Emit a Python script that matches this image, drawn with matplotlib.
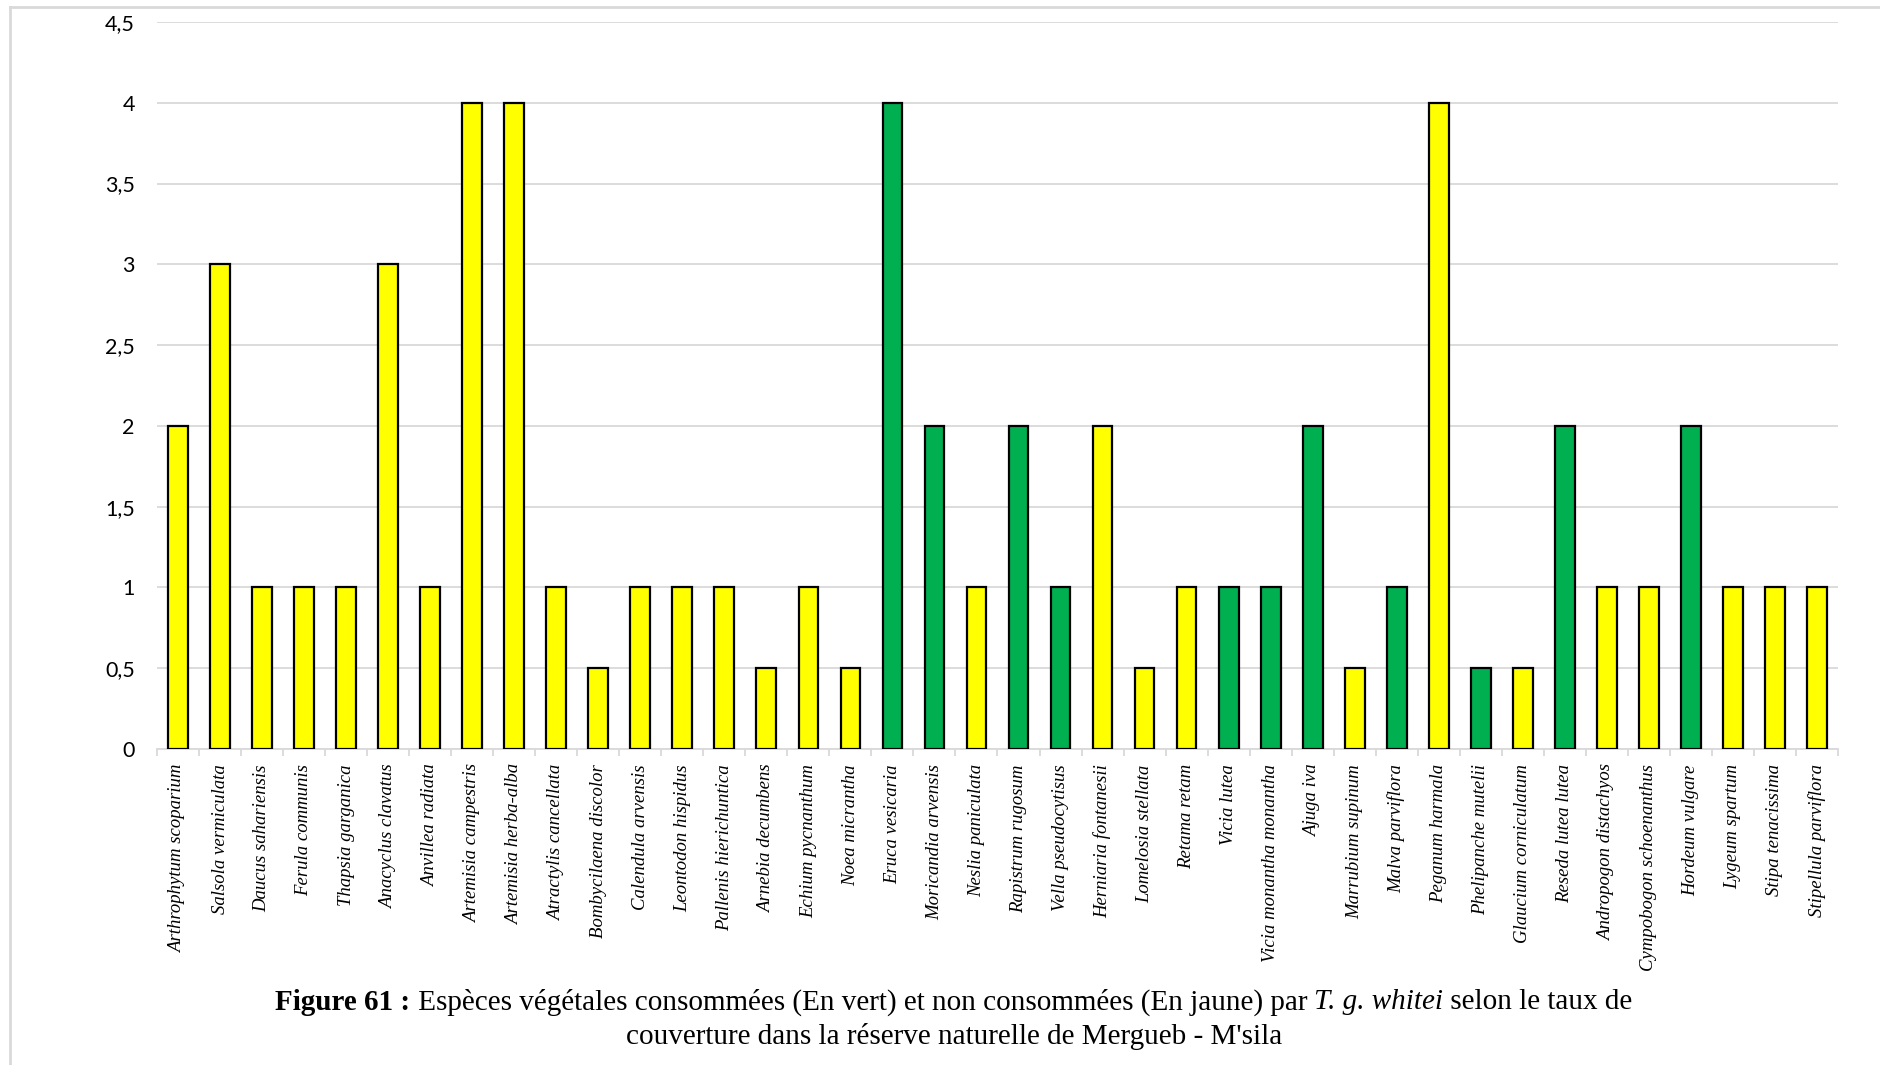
import matplotlib
matplotlib.use('Agg')
import matplotlib.pyplot as plt
from matplotlib.lines import Line2D
import numpy as np

# espèces et taux de couverture
especes = ['Arthrophytum scoparium', 'Salsola vermiculata', 'Daucus sahariensis',
           'Ferula communis', 'Thapsia garganica', 'Anacyclus clavatus',
           'Anvillea radiata', 'Artemisia campestris', 'Artemisia herba-alba',
           'Atractylis cancellata', 'Bombycilaena discolor', 'Calendula arvensis',
           'Leontodon hispidus', 'Pallenis hierichuntica', 'Arnebia decumbens',
           'Echium pycnanthum', 'Noea micrantha', 'Eruca vesicaria',
           'Moricandia arvensis', 'Neslia paniculata', 'Rapistrum rugosum',
           'Vella pseudocytisus', 'Herniaria fontanesii', 'Lomelosia stellata',
           'Retama retam', 'Vicia lutea', 'Vicia monantha monantha', 'Ajuga iva',
           'Marrubium supinum', 'Malva parviflora', 'Peganum harmala',
           'Phelipanche mutelii', 'Glaucium corniculatum', 'Reseda lutea lutea',
           'Andropogon distachyos', 'Cympobogon schoenanthus', 'Hordeum vulgare',
           'Lygeum spartum', 'Stipa tenacissima', 'Stipellula parviflora']
taux = [2, 3, 1, 1, 1, 3, 1, 4, 4, 1, 0.5, 1, 1, 1, 0.5, 1, 0.5, 4, 2, 1, 2, 1,
        2, 0.5, 1, 1, 1, 2, 0.5, 1, 4, 0.5, 0.5, 2, 1, 1, 2, 1, 1, 1]
# 1 = consommée (vert), 0 = non consommée (jaune)
consommee = [0, 0, 0, 0, 0, 0, 0, 0, 0, 0, 0, 0, 0, 0, 0, 0, 0, 1, 1, 0, 1, 1,
             0, 0, 0, 1, 1, 1, 0, 1, 0, 1, 0, 1, 0, 0, 1, 0, 0, 0]
yticks = [0, 0.5, 1, 1.5, 2, 2.5, 3, 3.5, 4, 4.5]
ylabels = ['0', '0,5', '1', '1,5', '2', '2,5', '3', '3,5', '4', '4,5']

W, H = 1881, 1065
fig = plt.figure(figsize=(W / 100, H / 100), dpi=100)
ax = fig.add_axes([157 / W, 1 - 749 / H, (1838 - 157) / W, (749 - 22) / H])

x = np.arange(len(especes))
couleurs = ['#00B050' if c else '#FFFF00' for c in consommee]
ax.bar(x, taux, width=0.47, color=couleurs, edgecolor='black', linewidth=1.6,
       zorder=3)

ax.set_xlim(-0.5, len(especes) - 0.5)
ax.set_ylim(0, 4.5)
ax.set_yticks(yticks)
ax.set_yticklabels(ylabels, fontfamily='Lato', fontsize=15.5)
ax.tick_params(axis='y', length=0, pad=16)
ax.yaxis.grid(True, color='#D9D9D9', linewidth=1.3, zorder=0)

# graduations entre les catégories
ax.set_xticks(np.arange(-0.5, len(especes), 1))
ax.set_xticklabels([])
ax.tick_params(axis='x', length=5, width=1.3, color='#D9D9D9')
ax.set_xticks(x, minor=True)
ax.set_xticklabels(especes, minor=True, rotation=90, va='top', ha='center',
                   fontfamily='Liberation Serif', fontstyle='italic', fontsize=13.5)
ax.tick_params(axis='x', which='minor', length=0, pad=11)

for s in ['top', 'right', 'left']:
    ax.spines[s].set_visible(False)
ax.spines['bottom'].set_color('#D9D9D9')
ax.spines['bottom'].set_linewidth(1.3)

# cadre du graphique
fig.add_artist(Line2D([10 / W, 1], [1 - 7 / H, 1 - 7 / H], color='#D9D9D9', lw=2))
fig.add_artist(Line2D([10 / W, 10 / W], [0, 1 - 7 / H], color='#D9D9D9', lw=2))

# légende de la figure
fig.canvas.draw()
renderer = fig.canvas.get_renderer()
fs = 21
morceaux = [('Figure 61 :', 'bold', 'normal'),
            (' Espèces végétales consommées (En vert) et non consommées (En jaune) par ', 'normal', 'normal'),
            ('T. g. whitei', 'normal', 'italic'),
            (' selon le taux de', 'normal', 'normal')]
textes = []
for txt, wt, st in morceaux:
    t = fig.text(0, 0, txt, fontfamily='Liberation Serif', fontsize=fs,
                 fontweight=wt, fontstyle=st, va='center', ha='left')
    textes.append(t)
largeurs = [t.get_window_extent(renderer).width for t in textes]
x0 = 954 - sum(largeurs) / 2
for t, w in zip(textes, largeurs):
    t.set_position((x0 / W, 1 - 1002 / H))
    x0 += w
fig.text(954 / W, 1 - 1037 / H, 'couverture dans la réserve naturelle de Mergueb - M\'sila',
         fontfamily='Liberation Serif', fontsize=fs, va='center', ha='center')

fig.savefig('out.png', dpi=100)
